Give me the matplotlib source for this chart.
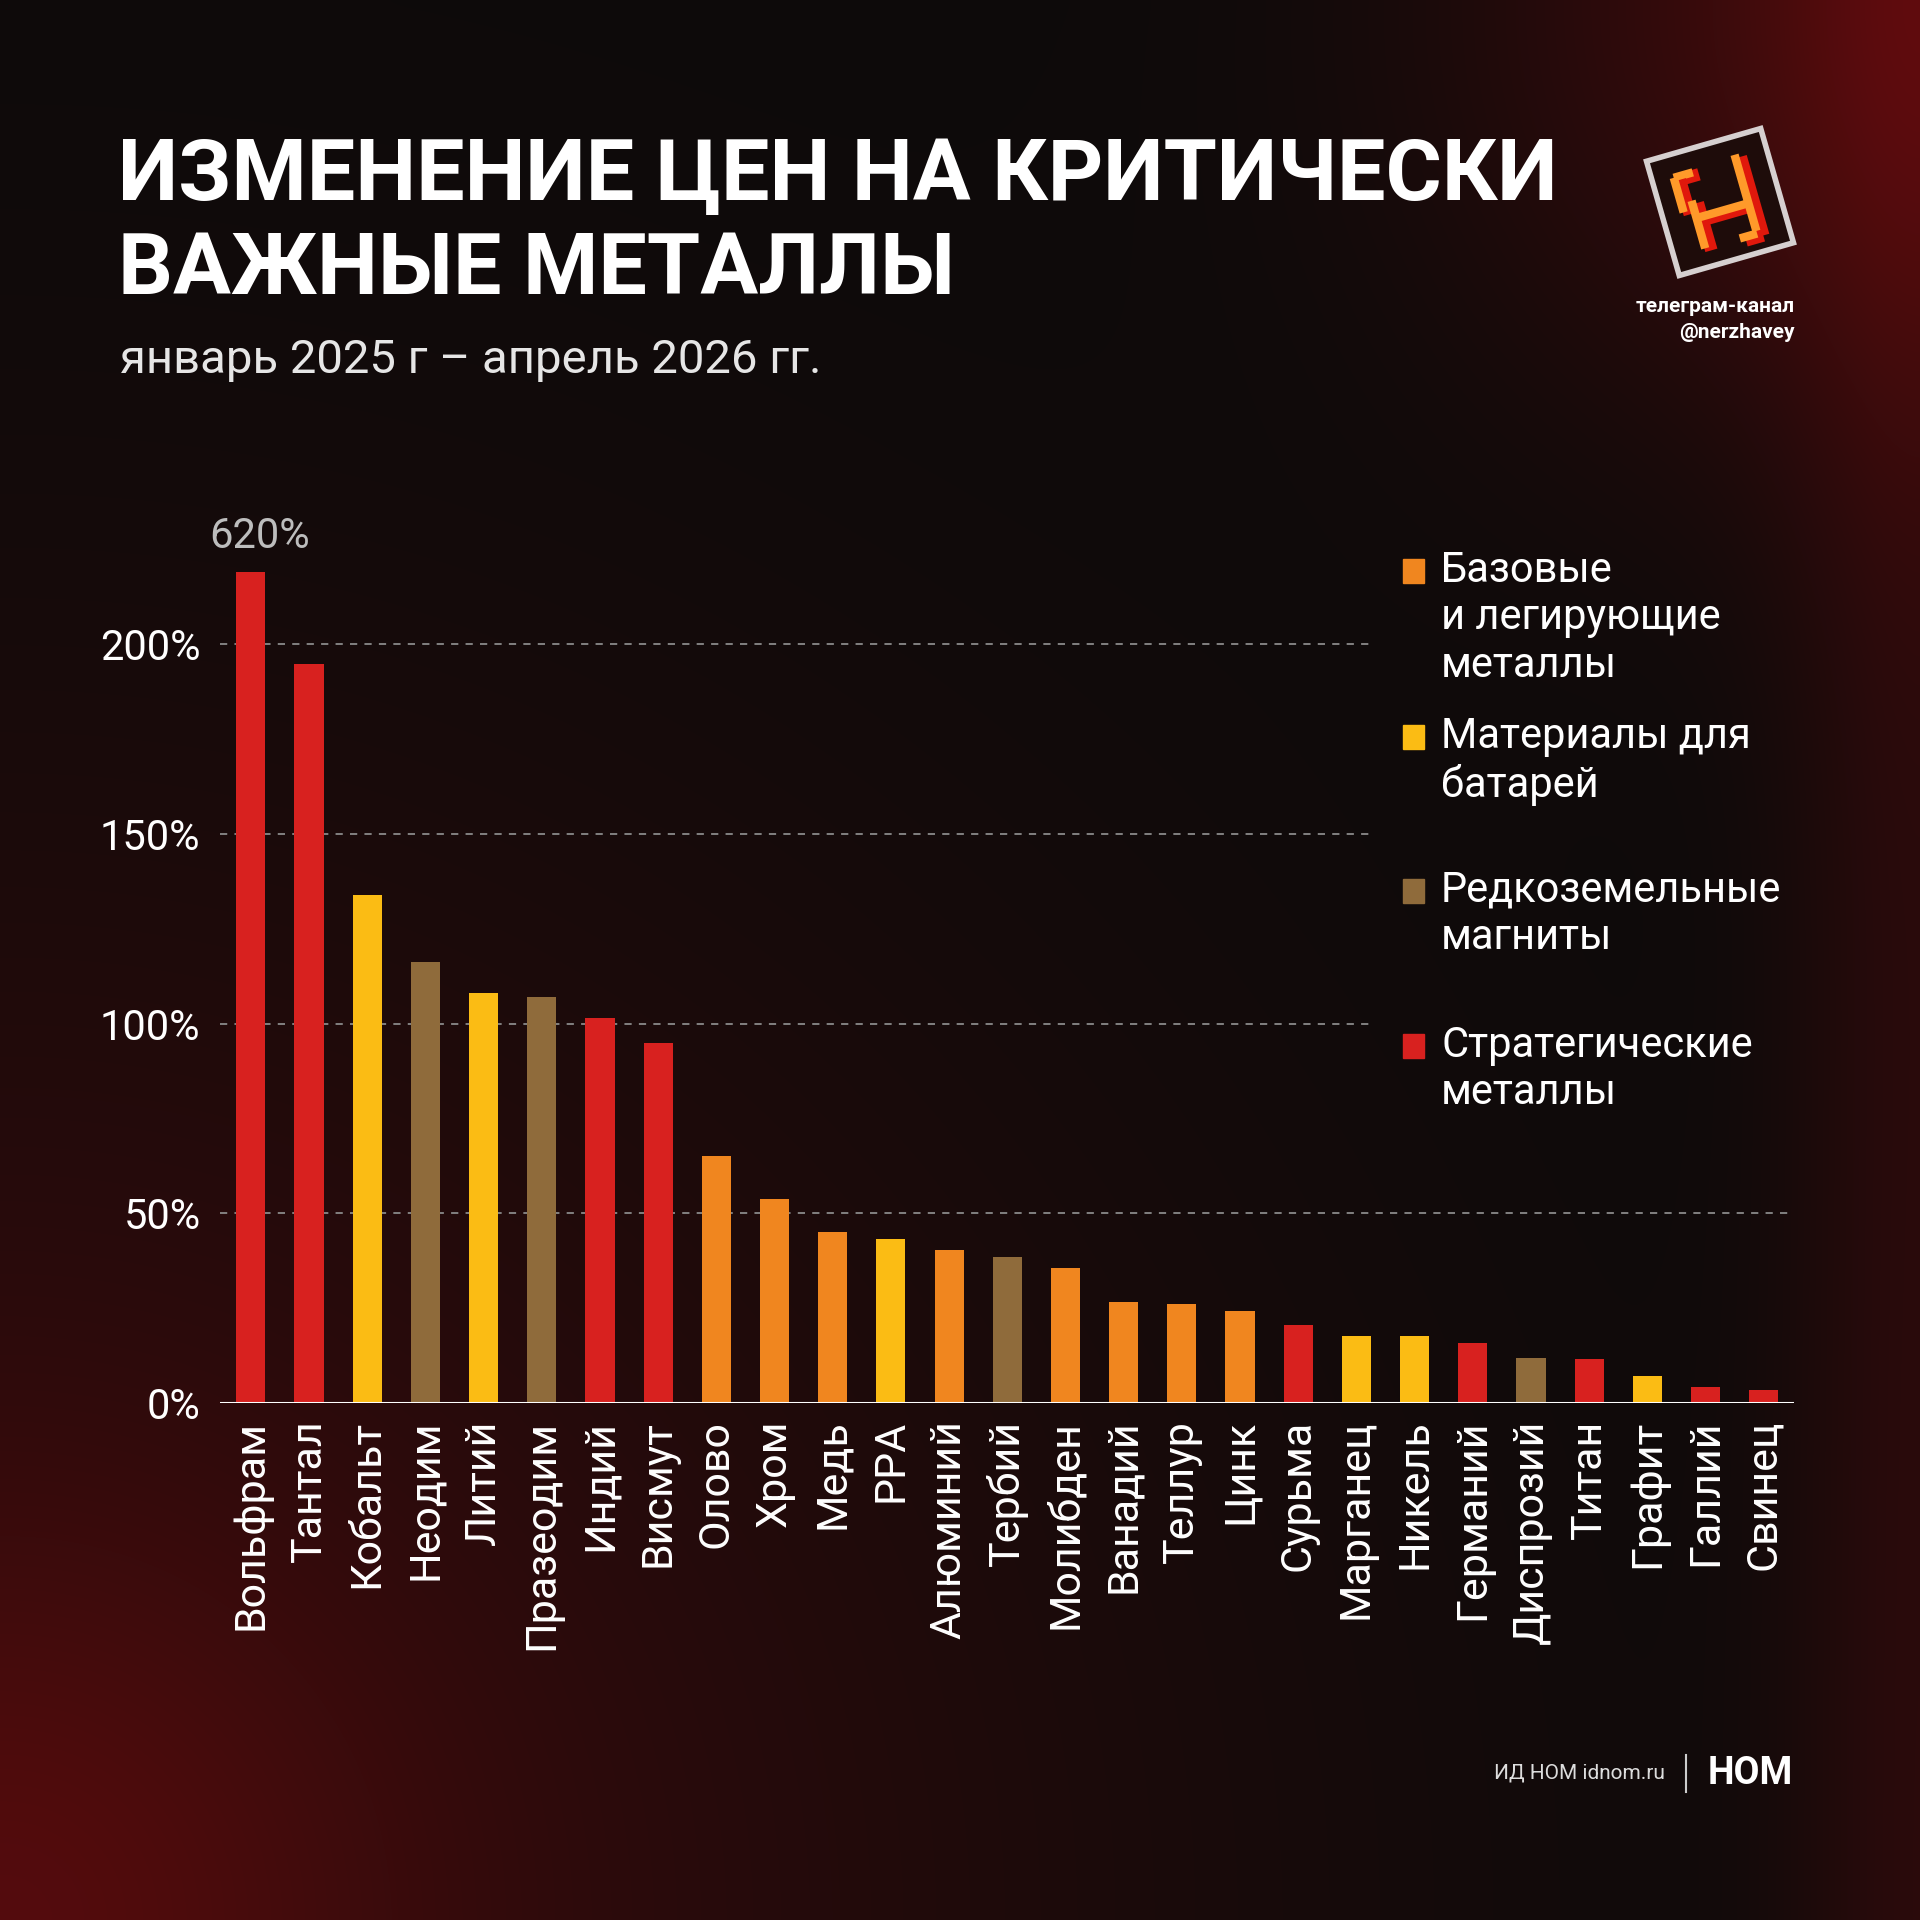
import numpy as np
import matplotlib
matplotlib.use('Agg')
from matplotlib import pyplot as plt
from matplotlib.patches import Rectangle
from matplotlib.transforms import Affine2D

# data (price change, %)
metals = ['Вольфрам', 'Тантал', 'Кобальт', 'Неодим', 'Литий', 'Празеодим', 'Индий',
          'Висмут', 'Олово', 'Хром', 'Медь', 'PPA', 'Алюминий', 'Тербий', 'Молибден',
          'Ванадий', 'Теллур', 'Цинк', 'Сурьма', 'Марганец', 'Никель', 'Германий',
          'Диспрозий', 'Титан', 'Графит', 'Галлий', 'Свинец']
# Вольфрам is actually +620%, the bar is cut at ~219%
shown = [219, 194.7, 133.8, 116.1, 108, 107.1, 101.5, 94.8, 65.2, 53.7, 45.0, 43.1,
         40.3, 38.5, 35.5, 26.7, 26.0, 24.3, 20.5, 17.7, 17.7, 15.8, 11.8, 11.5,
         7.2, 4.3, 3.3]
groups = ['s', 's', 'b', 'r', 'b', 'r', 's', 's', 'a', 'a', 'a', 'b', 'a', 'r', 'a',
          'a', 'a', 'a', 's', 'b', 'b', 's', 'r', 's', 'b', 's', 's']
top_label = '620%'
yticks = [0, 50, 100, 150, 200]

colors = {'a': '#f0861f', 'b': '#fbbc14', 'r': '#8f6b3b', 's': '#d8211f'}
legend_items = [('a', 'Базовые\nи легирующие\nметаллы'),
                ('b', 'Материалы для\nбатарей'),
                ('r', 'Редкоземельные\nмагниты'),
                ('s', 'Стратегические\nметаллы')]

plt.rcParams['font.family'] = ['Roboto', 'DejaVu Sans']

W = 1920
fig = plt.figure(figsize=(19.2, 19.2), dpi=100)
fig.patch.set_facecolor('#0c0a0a')

def fx(x):
    return x / W

def fy(y):
    return 1 - y / W

# background with dark red vignette
bg = fig.add_axes([0, 0, 1, 1])
n = 240
yy, xx = np.mgrid[0:n, 0:n] / n
base = np.array([12, 10, 10], float) / 255
red = np.array([105, 12, 14], float) / 255
glow = (0.42 * np.exp(-((xx) ** 2 + (yy - 1.0) ** 2) / 0.35)
        + 0.35 * np.exp(-((xx) ** 2 + (yy - 1.0) ** 2) / 0.04)
        + 0.6 * np.exp(-((xx - 1.0) ** 2 + (yy) ** 2) / 0.05)
        + 0.3 * np.exp(-((xx - 1.0) ** 2) / 0.005))
glow = np.clip(glow, 0, 1)[..., None]
img = base * (1 - glow) + red * glow
bg.imshow(img, extent=[0, 1, 0, 1], aspect='auto', interpolation='bicubic')
bg.set_xlim(0, 1)
bg.set_ylim(0, 1)
bg.axis('off')

# main chart
y0, y200 = 1403, 644
ppu = (y0 - y200) / 200.0
ymax = 230
ax = fig.add_axes([fx(220), fy(y0), fx(1794) - fx(220), ymax * ppu / W])
ax.set_facecolor('none')
x = np.arange(len(metals))
ax.bar(x, shown, width=0.5, color=[colors[g] for g in groups], zorder=3)
ax.set_xlim(-0.53, len(metals) - 0.48)
ax.set_ylim(0, ymax)

# dashed grid lines; upper ones stop before the legend
for v in yticks[1:]:
    xend = 0.73 if v > 50 else 1.0
    ax.axhline(v, xmin=0, xmax=xend, color='#8a8a8a', lw=1.3, ls=(0, (4, 4)), zorder=1)
ax.axhline(0, color='white', lw=2.2, zorder=4)

for s in ax.spines.values():
    s.set_visible(False)
ax.set_yticks(yticks)
ax.set_yticklabels([f'{v}%' for v in yticks], color='white', fontsize=30)
ax.tick_params(axis='y', length=0, pad=14)
ax.set_xticks(x)
ax.set_xticklabels(metals, rotation=90, color='white', fontsize=31, va='top')
ax.tick_params(axis='x', length=0, pad=12)

ax.text(x[0] + 0.15, shown[0] + 4, top_label, color='#bdbdbd', fontsize=30,
        ha='center', va='bottom')

# legend
ly = [571, 737, 891, 1046]
for (g, lab), yc in zip(legend_items, ly):
    fig.patches.append(Rectangle((fx(1403), fy(yc + 12)), 21 / W, 24 / W,
                                 transform=fig.transFigure, color=colors[g]))
    fig.text(fx(1441), fy(yc - 21), lab, color='white', fontsize=30,
             ha='left', va='top', linespacing=1.2)

# title block
fig.text(fx(118), fy(200), 'ИЗМЕНЕНИЕ ЦЕН НА КРИТИЧЕСКИ', color='white',
         fontsize=62, fontweight='bold', ha='left', va='baseline')
fig.text(fx(118), fy(294), 'ВАЖНЫЕ МЕТАЛЛЫ', color='white',
         fontsize=62, fontweight='bold', ha='left', va='baseline')
fig.text(fx(120), fy(373), 'январь 2025 г – апрель 2026 гг.', color='#e6e6e6',
         fontsize=34, ha='left', va='baseline')

# channel logo
lg = fig.add_axes([fx(1630), fy(292), 180 / W, 180 / W])
lg.set_xlim(-1, 1)
lg.set_ylim(-1, 1)
lg.set_aspect('equal')
lg.axis('off')
rot = Affine2D().rotate_deg(16) + lg.transData
lg.add_patch(Rectangle((-0.66, -0.66), 1.32, 1.32, fc='#1e0c0a', ec='#d6d0d0',
                       lw=4, transform=rot))
glyph = [[(-0.42, 0.4), (-0.2, 0.4)], [(-0.42, 0.4), (-0.42, 0.0)],
         [(-0.3, 0.1), (-0.3, -0.45)], [(-0.3, -0.1), (0.32, -0.1)],
         [(0.3, 0.46), (0.3, -0.45)], [(0.3, -0.45), (0.1, -0.45)]]
for seg in glyph:
    (xa, ya), (xb, yb) = seg
    lg.plot([xa + 0.06, xb + 0.06], [ya - 0.04, yb - 0.04], color='#e0180c', lw=9,
            solid_capstyle='butt', transform=rot)
    lg.plot([xa, xb], [ya, yb], color='#ff9a2a', lw=6, solid_capstyle='butt',
            transform=rot)
fig.text(fx(1795), fy(306), 'телеграм-канал', color='white', fontsize=15,
         fontweight='bold', ha='right', va='center')
fig.text(fx(1795), fy(333), '@nerzhavey', color='white', fontsize=15,
         fontweight='bold', ha='right', va='center')

# footer
fig.text(fx(1665), fy(1773), 'ИД НОМ idnom.ru', color='#dddddd', fontsize=15,
         ha='right', va='center')
fig.lines.append(plt.Line2D([fx(1686), fx(1686)], [fy(1755), fy(1792)],
                            transform=fig.transFigure, color='#cccccc', lw=1.5))
fig.text(fx(1708), fy(1774), 'НОМ', color='white', fontsize=27,
         fontweight='bold', ha='left', va='center')

fig.savefig('out.png', dpi=100, facecolor=fig.get_facecolor())
